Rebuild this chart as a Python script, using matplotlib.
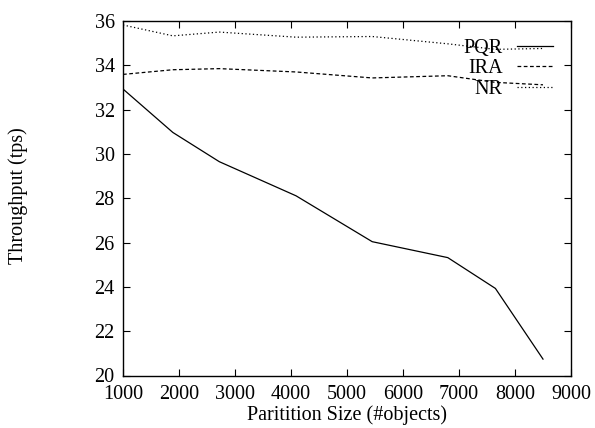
import matplotlib
matplotlib.use("Agg")
import matplotlib.pyplot as plt

partition_size = [1000, 1890, 2720, 4090, 5450, 6800, 7650, 8500]
pqr = [32.93, 30.97, 29.65, 28.11, 26.04, 25.32, 23.93, 20.74]
ira = [33.59, 33.80, 33.85, 33.70, 33.43, 33.53, 33.23, 33.12]
nr = [35.82, 35.33, 35.50, 35.27, 35.30, 34.97, 34.72, 34.76]

series_names = ["PQR", "IRA", "NR"]
xticks = [1000, 2000, 3000, 4000, 5000, 6000, 7000, 8000, 9000]
yticks = [20, 22, 24, 26, 28, 30, 32, 34, 36]

plt.rcParams['font.family'] = ['Liberation Serif', 'DejaVu Serif']
plt.rcParams['font.size'] = 14.5

fig = plt.figure(figsize=(5.95, 4.28), dpi=100)
ax = fig.add_axes([123/595, 1-375.5/428, (571-123)/595, (375.5-21)/428])

ax.plot(partition_size, pqr, color='black', lw=0.9, ls='-', label=series_names[0])
ax.plot(partition_size, ira, color='black', lw=0.9, ls=(0, (3, 2)), label=series_names[1])
ax.plot(partition_size, nr, color='black', lw=0.9, ls=(0, (1, 2)), label=series_names[2])

ax.set_xlim(1000, 9000)
ax.set_ylim(20, 36)
ax.set_xticks(xticks)
ax.set_yticks(yticks)
ax.tick_params(axis='x', direction='in', top=True, length=5, width=0.8, pad=7)
ax.tick_params(axis='y', direction='in', right=True, length=5, width=0.8, pad=6)
for s in ax.spines.values():
    s.set_linewidth(1.0)

ax.set_xlabel("Paritition Size (#objects)", labelpad=1)
fig.text(18/595, 1-196/428, "Throughput (tps)", rotation=90, ha='center', va='center')

leg = ax.legend(loc='upper right', frameon=False, markerfirst=False,
                handlelength=1.8, handletextpad=0.7, labelspacing=0.06,
                borderaxespad=0.0, borderpad=0.0,
                bbox_to_anchor=((553-123)/448, 1-(39-21)/354.5))

fig.savefig("out.png", dpi=100)
